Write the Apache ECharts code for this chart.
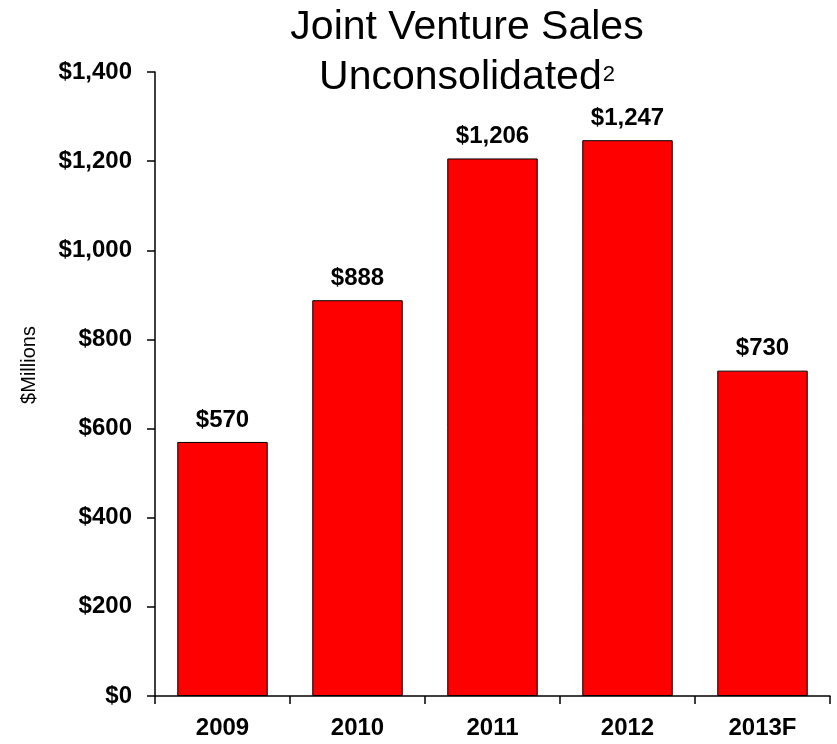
<!DOCTYPE html>
<html>
<head>
<meta charset="utf-8">
<style>
  html, body { margin: 0; padding: 0; background: #ffffff; }
  #chart { width: 837px; height: 744px; }
</style>
<script src="https://cdn.jsdelivr.net/npm/echarts@6/dist/echarts.min.js"></script>
</head>
<body>
<div id="chart"></div>
<script>
const categories = ['2009', '2010', '2011', '2012', '2013F'];
const salesValues = [570, 888, 1206, 1247, 730];
const yTickValues = [0, 200, 400, 600, 800, 1000, 1200, 1400];
const titleLine1 = 'Joint Venture Sales';
const titleLine2 = 'Unconsolidated';
const titleSup = '2';
const yAxisName = '$Millions';

const FONT = '"Liberation Sans", Arial, Helvetica, sans-serif';

function money(v) {
  return '$' + v.toLocaleString('en-US');
}

const chart = echarts.init(document.getElementById('chart'), null, { renderer: 'canvas' });

chart.setOption({
  backgroundColor: '#ffffff',
  animation: false,
  title: {
    text: '{t|' + titleLine1 + '}\n{t|' + titleLine2 + '}{s|' + titleSup + '}',
    left: 467,
    top: 3,
    textAlign: 'center',
    padding: 0,
    textStyle: {
      fontWeight: 'normal',
      rich: {
        t: { fontFamily: FONT, fontWeight: 'normal', fontSize: 41, lineHeight: 50, color: '#000000' },
        s: { fontFamily: FONT, fontWeight: 'normal', fontSize: 22, lineHeight: 22, color: '#000000', verticalAlign: 'top', padding: [11, 0, 0, 1] }
      }
    }
  },
  grid: {
    left: 155,
    right: 7,
    top: 72,
    bottom: 48,
    containLabel: false
  },
  xAxis: {
    type: 'category',
    data: categories,
    boundaryGap: true,
    axisLine: { show: true, lineStyle: { color: '#000000', width: 1.5 } },
    axisTick: { show: true, inside: false, length: 8, alignWithLabel: false, lineStyle: { color: '#000000', width: 1.5 } },
    axisLabel: {
      margin: 20,
      fontFamily: FONT,
      fontWeight: 'bold',
      fontSize: 24,
      color: '#000000'
    },
    splitLine: { show: false }
  },
  yAxis: {
    type: 'value',
    min: yTickValues[0],
    max: yTickValues[yTickValues.length - 1],
    interval: yTickValues[1] - yTickValues[0],
    name: yAxisName,
    nameLocation: 'middle',
    nameGap: 116,
    nameRotate: 90,
    nameTextStyle: {
      fontFamily: FONT,
      fontSize: 20,
      color: '#000000',
      padding: [0, 0, 0, 38]
    },
    axisLine: { show: true, lineStyle: { color: '#000000', width: 1.5 } },
    axisTick: { show: true, inside: false, length: 8, lineStyle: { color: '#000000', width: 1.5 } },
    axisLabel: {
      margin: 23,
      fontFamily: FONT,
      fontWeight: 'bold',
      fontSize: 24,
      color: '#000000',
      formatter: function (v) { return money(v); }
    },
    splitLine: { show: false }
  },
  series: [{
    type: 'bar',
    data: salesValues,
    barWidth: '67%',
    itemStyle: {
      color: '#ff0000',
      borderColor: '#000000',
      borderWidth: 1
    },
    label: {
      show: true,
      position: 'top',
      distance: 10,
      fontFamily: FONT,
      fontWeight: 'bold',
      fontSize: 24,
      color: '#000000',
      formatter: function (p) { return money(p.value); }
    }
  }]
});
</script>
</body>
</html>
